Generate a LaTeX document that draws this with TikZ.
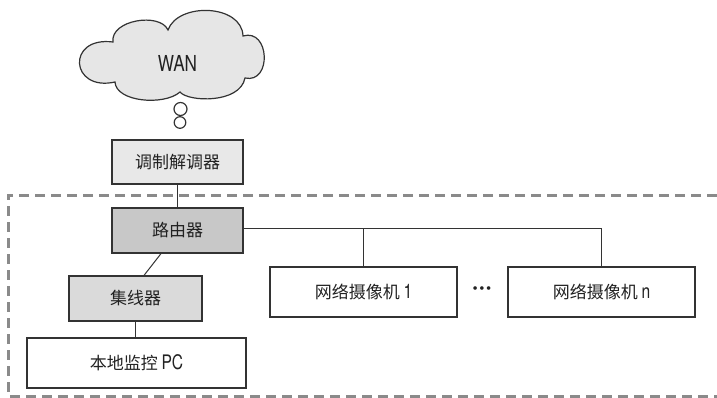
\documentclass[tikz,border=0pt]{standalone}
\usepackage{fontspec}
\usepackage{graphicx}
\setmainfont{TeX Gyre Heros}
\newfontfamily\cjk{Noto Sans CJK SC}
\newcommand\lat[2][20]{\scalebox{0.78}[1]{\fontsize{#1}{#1}\selectfont #2}}
\definecolor{txt}{HTML}{222222}
\definecolor{edge}{HTML}{333333}
\definecolor{modemfill}{HTML}{E8E8E8}
\definecolor{routerfill}{HTML}{C8C8C8}
\definecolor{hubfill}{HTML}{DADADA}
\definecolor{cloudfill}{HTML}{E6E6E6}
\definecolor{dashgray}{HTML}{8A8A8A}
\begin{document}
\begin{tikzpicture}[x=1pt,y=-1pt,
  devbox/.style={draw=edge, line width=1.2pt, text=txt, inner sep=0pt,
    font=\cjk\fontsize{17}{20}\selectfont},
  wire/.style={draw=edge, line width=1pt},
  zone/.style={draw=dashgray, line width=3pt, dash pattern=on 10pt off 6pt}]
\useasboundingbox (0,0) rectangle (717,397);
% dashed zone
\begin{scope}
\clip (0,0) rectangle (717,397);
\draw[zone] (717,195) -- (8,195) -- (8,396) -- (717,396);
\end{scope}
% cloud
\draw[edge, line width=1.2pt, fill=cloudfill]
  (113,42) .. controls (110,20) and (160,12) .. (168,30)
  .. controls (178,2) and (242,4) .. (243,36)
  .. controls (270,28) and (272,84) .. (245,78)
  .. controls (240,104) and (188,102) .. (180,92)
  .. controls (164,106) and (116,102) .. (115,82)
  .. controls (70,92) and (66,36) .. (113,42) -- cycle;
\node[text=txt] (wan) at (177.5,63) {\lat[22]{WAN}};
\draw[edge, line width=1.2pt, fill=white] (180.5,109) circle[radius=6.5];
\draw[edge, line width=1.2pt, fill=white] (180,122.5) circle[radius=5.8];
% boxes
\node[devbox, fill=modemfill, minimum width=131pt, minimum height=44pt] (modem) at (177.5,162) {调制解调器};
\node[devbox, fill=routerfill, minimum width=131pt, minimum height=45pt] (router) at (177.5,230.5) {路由器};
\node[devbox, fill=hubfill, minimum width=133pt, minimum height=45pt] (hub) at (135.5,298.5) {集线器};
\node[devbox, fill=white, minimum width=219pt, minimum height=50pt] (pc) at (136.5,363) {本地监控 {\rmfamily\lat{PC}}};
\node[devbox, fill=white, minimum width=187pt, minimum height=50pt] (cam1) at (363.5,292) {网络摄像机 {\rmfamily\lat{1}}};
\node[devbox, fill=white, minimum width=187pt, minimum height=50pt] (camn) at (601.5,292) {网络摄像机 {\rmfamily\lat{n}}};
\node[text=txt, font=\bfseries\fontsize{24}{24}\selectfont] (dots) at (482,291) {···};
% wires
\draw[wire] (modem.south) -- (router.north);
\draw[wire] ([xshift=-16.5pt]router.south) -- ([xshift=8.5pt]hub.north);
\draw[wire] (hub.south) -- (hub.south |- pc.north);
\coordinate (re) at ([yshift=2.5pt]router.east);
\draw[wire] (re) -| (camn.north);
\draw[wire] (re -| cam1.north) -- (cam1.north);
\end{tikzpicture}
\end{document}
